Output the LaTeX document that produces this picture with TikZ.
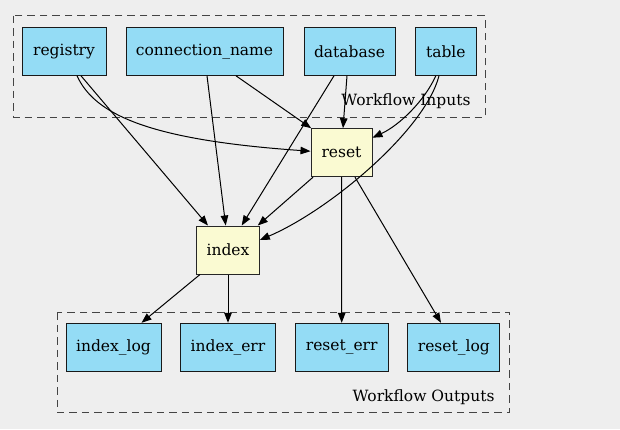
\documentclass[tikz,border=0pt]{standalone}
\usepackage{fontspec}
\setmainfont{DejaVu Serif}
\usetikzlibrary{arrows.meta,calc}
\definecolor{bgc}{HTML}{EEEEEE}
\definecolor{inblue}{HTML}{94DCF5}
\definecolor{stepyel}{HTML}{FAFAD2}
\definecolor{clgray}{HTML}{444444}
\begin{document}
\begin{tikzpicture}[x=1pt,y=-1pt,
  font=\fontsize{15.5}{18}\selectfont,
  iobox/.style={draw=black!90,fill=inblue,line width=1pt,minimum height=48pt,inner sep=0pt},
  stepbox/.style={draw=black!85,fill=stepyel,line width=1pt,minimum height=48pt,inner sep=0pt},
  cluster/.style={draw=clgray,dash pattern=on 7.5pt off 5pt,line width=1pt},
  edge/.style={draw=black,line width=1pt,-{Triangle[length=10pt,width=7.5pt]}}]
\fill[bgc] (0,0) rectangle (620,429);
\useasboundingbox (0,0) rectangle (620,429);
% clusters
\draw[cluster] (13.3,15.7) rectangle (485.3,117);
\draw[cluster] (57.3,312.3) rectangle (509.3,412.7);
\node[anchor=east] (inlabel) at (474,101) {Workflow Inputs};
\node[anchor=east] (outlabel) at (498,397) {Workflow Outputs};
% inputs
\node[iobox,minimum width=84pt] (registry) at (64,51.3) {registry};
\node[iobox,minimum width=157pt] (connection_name) at (204.5,51.3) {connection\_name};
\node[iobox,minimum width=91pt] (database) at (349.5,51.3) {database};
\node[iobox,minimum width=61pt] (table) at (445.8,51.3) {table};
% steps
\node[stepbox,minimum width=61pt] (reset) at (341.5,152.7) {reset};
\node[stepbox,minimum width=62.6pt] (index) at (228,250) {index};
% outputs
\node[iobox,minimum width=95pt] (index_log) at (113.5,347.3) {index\_log};
\node[iobox,minimum width=94.6pt] (index_err) at (228,347.3) {index\_err};
\node[iobox,minimum width=92.7pt] (reset_err) at (341.7,347.3) {reset\_err};
\node[iobox,minimum width=92.3pt] (reset_log) at (453.8,347.3) {reset\_log};
% edges
\draw[edge] ($(registry.south)+(13,0)$) .. controls (95,115) and (150,140) .. ($(reset.west)+(0,-1.5)$);
\draw[edge] ($(registry.south)+(17,0)$) -- ($(index.north)+(-20,0)$);
\draw[edge] ($(connection_name.south)+(2.5,0)$) -- ($(index.north)+(-2.3,0)$);
\draw[edge] ($(connection_name.south)+(31.5,0)$) -- ($(reset.north west)+(0.7,0)$);
\draw[edge] ($(database.south)+(-15.5,0)$) -- ($(index.north)+(13.7,0)$);
\draw[edge] ($(database.south)+(-2.5,0)$) -- ($(reset.north)+(1.5,0)$);
\draw[edge] ($(table.south)+(-10,0)$) .. controls (425,100) and (400,125) .. ($(reset.east)+(0,-15)$);
\draw[edge] ($(table.south)+(-6.8,0)$) .. controls (425,130) and (330,210) .. ($(index.east)+(0,-10)$);
\draw[edge] ($(reset.south)+(-28.5,0)$) -- ($(index.north east)+(-2,0)$);
\draw[edge] (reset.south) -- (reset_err.north);
\draw[edge] ($(reset.south)+(13.5,0)$) -- ($(reset_log.north)+(-12.8,0)$);
\draw[edge] ($(index.south)+(-28,0)$) -- ($(index_log.north)+(28,0)$);
\draw[edge] (index.south) -- (index_err.north);
\end{tikzpicture}
\end{document}
